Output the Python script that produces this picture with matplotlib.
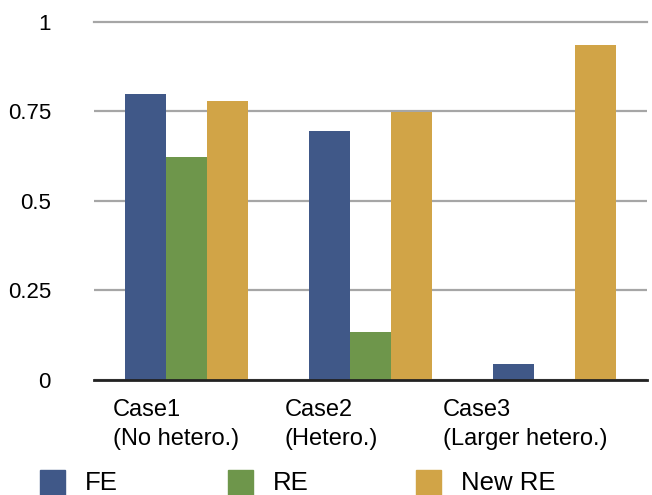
import matplotlib.pyplot as plt
import numpy as np
from matplotlib.patches import Rectangle

plt.rcParams["font.family"] = ["Liberation Sans", "DejaVu Sans"]

# data
cases = ["Case1\n(No hetero.)", "Case2\n(Hetero.)", "Case3\n(Larger hetero.)"]
series = ["FE", "RE", "New RE"]
fe = [0.797, 0.695, 0.045]
re = [0.621, 0.134, 0.0]
new_re = [0.777, 0.748, 0.934]
yticks = [0, 0.25, 0.5, 0.75, 1]
ytick_labels = ["0", "0.25", "0.5", "0.75", "1"]

colors = ["#405888", "#6E964B", "#D1A447"]

W, H = 652, 495
fig = plt.figure(figsize=(W / 100, H / 100), dpi=100)
ax = fig.add_axes([94 / W, 1 - 380 / H, (647 - 94) / W, (380 - 21.5) / H])

x = np.arange(len(cases))
width = 0.222
for i, (vals, col) in enumerate(zip([fe, re, new_re], colors)):
    ax.bar(x + (i - 1) * width, vals, width, color=col, zorder=3, linewidth=0)

ax.set_xlim(-0.5, len(cases) - 0.5)
ax.set_ylim(0, 1)
ax.set_yticks(yticks)
ax.set_yticklabels(ytick_labels)
ax.yaxis.grid(True, color="#A6A6A6", linewidth=1.6, zorder=0)
ax.tick_params(axis="y", length=0, pad=31, labelsize=16)
ax.set_xticks([])
for s in ["top", "right", "left"]:
    ax.spines[s].set_visible(False)
ax.spines["bottom"].set_color("#222222")
ax.spines["bottom"].set_linewidth(2)
ax.spines["bottom"].set_zorder(4)
ax.get_ygridlines()[-1].set_clip_on(False)

# category labels, left aligned like the original
label_px = [113, 285, 443]
for lx, lab in zip(label_px, cases):
    fig.text(lx / W, 1 - 399 / H, lab, ha="left", va="top", fontsize=17,
             linespacing=1.4)

# legend row at the bottom
sq_px = [40, 228, 416]
for sx, name, col in zip(sq_px, series, colors):
    fig.patches.append(Rectangle((sx / W, 0), 25 / W, 25 / H,
                                 transform=fig.transFigure, color=col))
    fig.text((sx + 45) / W, 0.5 / H, name, ha="left", va="bottom", fontsize=18.5)

fig.savefig("out.png", dpi=100)
